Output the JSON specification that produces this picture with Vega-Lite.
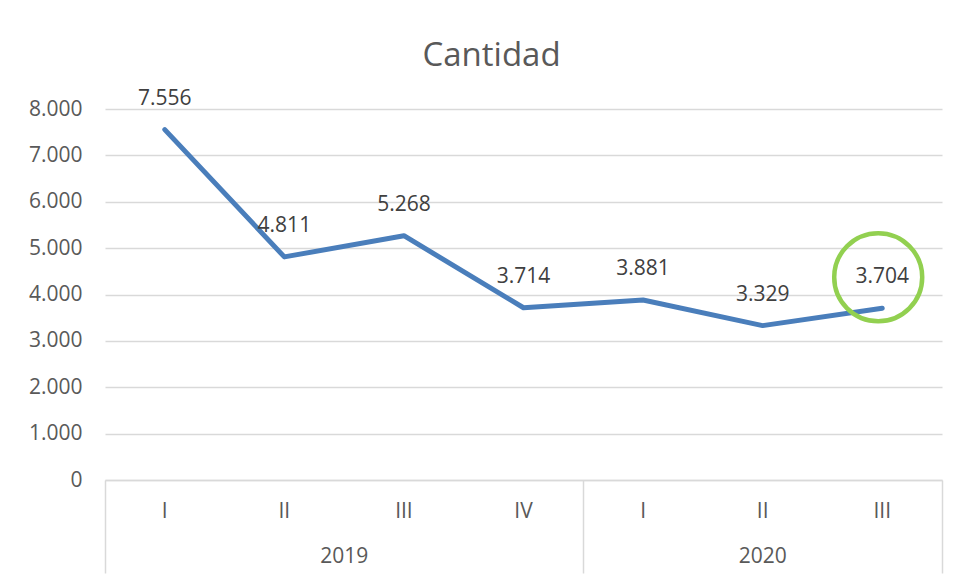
{
  "$schema": "https://vega.github.io/schema/vega-lite/v6.json",
  "autosize": "none",
  "width": 837,
  "height": 371,
  "padding": {"left": 105, "top": 109, "right": 17, "bottom": 104},
  "background": "white",
  "title": {
    "text": "Cantidad",
    "font": "Open Sans",
    "fontSize": 33,
    "fontWeight": "normal",
    "color": "#595959",
    "anchor": "middle",
    "dx": -32,
    "offset": 15
  },
  "data": {
    "values": [
      {"idx": 0, "year": "2019", "q": "I", "value": 7556, "highlight": false},
      {"idx": 1, "year": "2019", "q": "II", "value": 4811, "highlight": false},
      {"idx": 2, "year": "2019", "q": "III", "value": 5268, "highlight": false},
      {"idx": 3, "year": "2019", "q": "IV", "value": 3714, "highlight": false},
      {"idx": 4, "year": "2020", "q": "I", "value": 3881, "highlight": false},
      {"idx": 5, "year": "2020", "q": "II", "value": 3329, "highlight": false},
      {"idx": 6, "year": "2020", "q": "III", "value": 3704, "highlight": true}
    ]
  },
  "encoding": {
    "x": {
      "field": "idx",
      "type": "quantitative",
      "scale": {"domain": [-0.5, 6.5], "nice": false, "zero": false},
      "axis": {
        "title": null,
        "values": [-0.5, 3.5, 6.5],
        "labels": false,
        "grid": false,
        "domain": true,
        "domainColor": "#d9d9d9",
        "domainWidth": 1.5,
        "ticks": true,
        "tickSize": 93,
        "tickColor": "#d9d9d9",
        "tickWidth": 1.5
      }
    }
  },
  "layer": [
    {
      "mark": {"type": "line", "color": "#4a7ebb", "strokeWidth": 5, "strokeCap": "round", "strokeJoin": "round"},
      "encoding": {
        "y": {
          "field": "value",
          "type": "quantitative",
          "scale": {"domain": [0, 8000], "nice": false},
          "axis": {
            "title": null,
            "values": [0, 1000, 2000, 3000, 4000, 5000, 6000, 7000, 8000],
            "labelExpr": "replace(format(datum.value, ',d'), ',', '.')",
            "grid": true,
            "gridColor": "#d9d9d9",
            "gridWidth": 1.3,
            "domain": false,
            "ticks": false,
            "labelPadding": 23,
            "labelFont": "Open Sans",
            "labelFontSize": 21,
            "labelColor": "#595959"
          }
        }
      }
    },
    {
      "mark": {"type": "text", "font": "Open Sans", "fontSize": 21, "color": "#404040", "baseline": "middle", "align": "center", "dy": -31},
      "encoding": {
        "y": {"field": "value", "type": "quantitative"},
        "text": {"field": "value", "type": "quantitative", "format": ","}
      }
    },
    {
      "mark": {"type": "text", "font": "Open Sans", "fontSize": 21, "color": "#595959", "baseline": "middle", "align": "center"},
      "encoding": {
        "y": {"datum": -690, "type": "quantitative"},
        "text": {"field": "q", "type": "nominal"}
      }
    },
    {
      "transform": [{"aggregate": [{"op": "mean", "field": "idx", "as": "idx"}], "groupby": ["year"]}],
      "mark": {"type": "text", "font": "Open Sans", "fontSize": 21, "color": "#595959", "baseline": "middle", "align": "center"},
      "encoding": {
        "y": {"datum": -1660, "type": "quantitative"},
        "text": {"field": "year", "type": "nominal"}
      }
    },
    {
      "transform": [{"filter": "datum.highlight"}],
      "mark": {"type": "point", "shape": "circle", "filled": false, "size": 7744, "strokeWidth": 4.5, "color": "#92d050", "opacity": 1, "xOffset": -4, "yOffset": -31},
      "encoding": {
        "y": {"field": "value", "type": "quantitative"}
      }
    }
  ],
  "config": {
    "view": {"stroke": null},
    "locale": {"number": {"decimal": ",", "thousands": ".", "grouping": [3], "currency": ["", " €"]}}
  }
}
